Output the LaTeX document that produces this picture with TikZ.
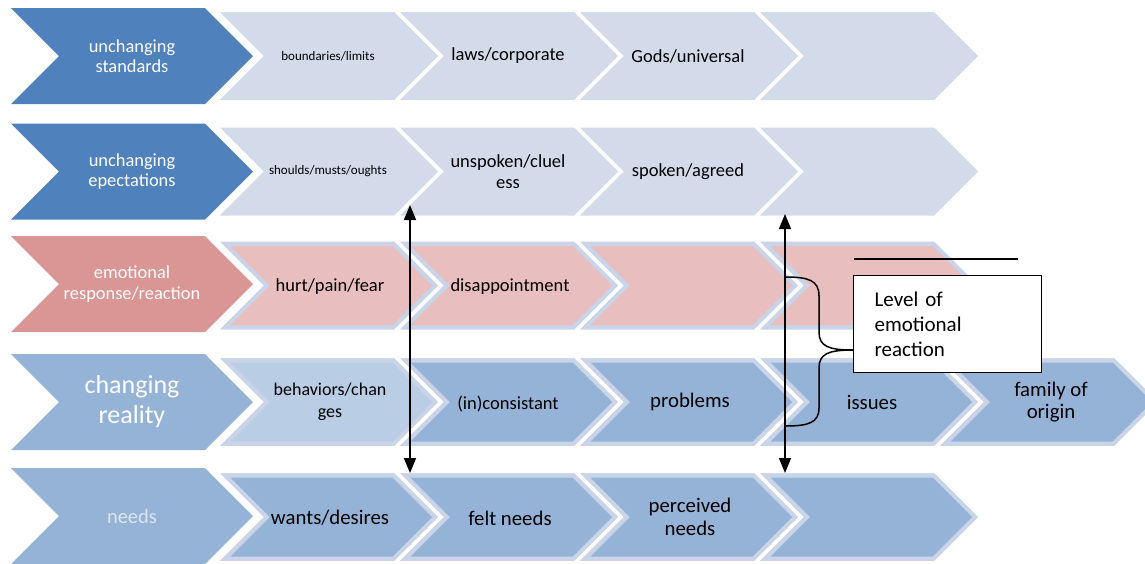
\documentclass[tikz,border=0pt]{standalone}
\usepackage{fontspec}
\setmainfont{Carlito}
\usetikzlibrary{arrows.meta}
\definecolor{bigdark}{HTML}{4F81BD}
\definecolor{bigpink}{HTML}{D99694}
\definecolor{biglight}{HTML}{95B3D7}
\definecolor{lightA}{HTML}{D3DAEA}
\definecolor{bandc}{HTML}{C9D4E8}
\definecolor{pinkfill}{HTML}{E8BEBE}
\definecolor{palefill}{HTML}{B9CDE5}
\definecolor{needstxt}{HTML}{DCE4F0}
% chevron outline: L, R, centre y, half height, style
\newcommand\chevout[5]{%
  \path[#5] (#1,#3-#4) -- (#2,#3-#4) -- (#2+#4,#3) -- (#2,#3+#4) -- (#1,#3+#4) -- (#1+#4,#3) -- cycle;}
% inner chevron inset by 6
\newcommand\chevin[5]{%
  \path[#5] (#1+14.5,#3-#4+6) -- (#2-2.5,#3-#4+6) -- (#2+#4-8.5,#3) -- (#2-2.5,#3+#4-6) -- (#1+14.5,#3+#4-6) -- (#1+#4+8.5,#3) -- cycle;}
\tikzset{
  sep/.style={draw=white, line width=3pt},
  bigtxt/.style={text=white, align=center, inner sep=0pt, font=\fontsize{18.4}{20.5}\selectfont},
  smalltxt/.style={align=center, inner sep=0pt, font=\fontsize{13}{15}\selectfont},
  midtxt/.style={align=center, inner sep=0pt, font=\fontsize{18.5}{20.5}\selectfont},
  lgtxt/.style={align=center, inner sep=0pt, font=\fontsize{20.8}{22.5}\selectfont},
  dblarrow/.style={line width=1.5pt, {Triangle[length=15pt,width=12pt]}-{Triangle[length=15pt,width=12pt]}},
  bracepath/.style={line width=1.5pt, black},
  thinline/.style={line width=1.3pt, black},
  lvlbox/.style={draw=black, fill=white, line width=1.2pt, minimum width=188pt, minimum height=97pt,
    text width=146pt, inner xsep=21pt, align=left, font=\fontsize{21}{25}\selectfont}
}
\begin{document}
\begin{tikzpicture}[x=1pt,y=-1pt]
\useasboundingbox (0,0) rectangle (1145,563);
% big chevrons
\chevout{11}{205}{56}{48}{fill=bigdark}
\chevout{11}{205}{171.5}{48}{fill=bigdark}
\chevout{11}{205}{284}{48}{fill=bigpink}
\chevout{11}{205}{402}{48}{fill=biglight}
\chevout{11}{205}{516}{48}{fill=biglight}
% row 1
\foreach \L in {216,396,576,756}{\chevout{\L}{\L+179}{56}{45.5}{fill=lightA, sep}}
% row 2
\foreach \L in {216,396,576,756}{\chevout{\L}{\L+179}{171.5}{45.5}{fill=lightA, sep}}
% row 3
\foreach \L in {216,396,576,756}{%
  \chevout{\L}{\L+179}{285.5}{45.5}{fill=bandc, sep}
  \chevin{\L}{\L+179}{285.5}{45.5}{fill=pinkfill}}
% row 4
\chevout{216}{395}{402}{45.5}{fill=bandc, sep}
\chevin{216}{395}{402}{45.5}{fill=palefill}
\foreach \L in {396,576,756,936}{%
  \chevout{\L}{\L+179}{402}{45.5}{fill=bandc, sep}
  \chevin{\L}{\L+179}{402}{45.5}{fill=biglight}}
% row 5
\foreach \L in {216,396,576,756}{%
  \chevout{\L}{\L+179}{517}{45.5}{fill=bandc, sep}
  \chevin{\L}{\L+179}{517}{45.5}{fill=biglight}}
% big labels
\node[bigtxt] (b1) at (132,56) {unchanging\\standards};
\node[bigtxt] (b2) at (132,171.5) {unchanging\\epectations};
\node[bigtxt] (b3) at (132,284) {emotional\\response/reaction};
\node[bigtxt, font=\fontsize{26}{30}\selectfont] (b4) at (132,402) {changing\\reality};
\node[bigtxt, text=needstxt, font=\fontsize{20.5}{23}\selectfont] (b5) at (132,516) {needs};
% row 1 labels
\node[smalltxt] (t11) at (328,56) {boundaries/limits};
\node[midtxt] (t12) at (508,56) {laws/corporate};
\node[midtxt] (t13) at (688,56) {Gods/universal};
% row 2 labels
\node[smalltxt] (t21) at (328,171.5) {shoulds/musts/oughts};
\node[midtxt] (t22) at (508,171.5) {unspoken/cluel\\ess};
\node[midtxt] (t23) at (688,171.5) {spoken/agreed};
% row 3 labels
\node[midtxt] (t31) at (330,287) {hurt/pain/fear};
\node[midtxt] (t32) at (510,287) {disappointment};
% row 4 labels
\node[midtxt, font=\fontsize{18}{21.5}\selectfont] (t41) at (330,402) {behaviors/chan\\ges};
\node[midtxt] (t42) at (508,404) {(in)consistant};
\node[lgtxt] (t43) at (690,402) {problems};
\node[lgtxt] (t44) at (872,402) {issues};
\node[lgtxt] (t45) at (1051,402) {family of\\origin};
% row 5 labels
\node[lgtxt] (t51) at (330,518) {wants/desires};
\node[lgtxt] (t52) at (510,518) {felt needs};
\node[lgtxt] (t53) at (690,517) {perceived\\needs};
% arrows
\coordinate (a1t) at (410,205);
\coordinate (a1b) at (410,473);
\coordinate (a2t) at (785,214);
\coordinate (a2b) at (785,473);
\draw[dblarrow] (a1t) -- (a1b);
\draw[dblarrow] (a2t) -- (a2b);
% brace
\coordinate (bt) at (785,277);
\coordinate (bm) at (853,350);
\coordinate (bb) at (785,426);
\draw[bracepath] (bt) .. controls (808,277) and (819,280) .. (819,296) -- (819,332)
  .. controls (819,346) and (828,350) .. (bm)
  .. controls (828,350) and (819,354) .. (819,368) -- (819,408)
  .. controls (819,423) and (808,426) .. (bb);
% line above box
\coordinate (ha) at (854,259);
\coordinate (hb) at (1018,259);
\draw[thinline] (ha) -- (hb);
% label box
\node[lvlbox, anchor=north west] (lvl) at (853,275) {Level of\\emotional\\reaction};
\end{tikzpicture}
\end{document}
